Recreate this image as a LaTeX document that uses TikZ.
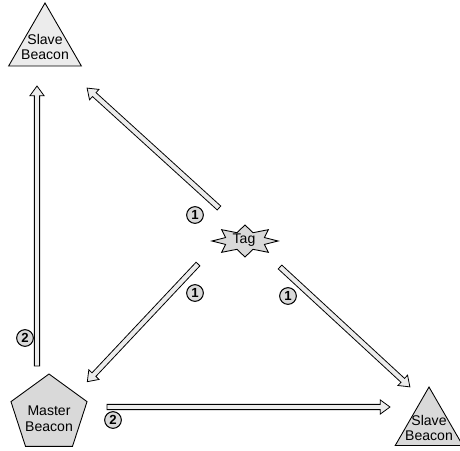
\documentclass[tikz,border=0pt]{standalone}
\usepackage{fontspec}
\setmainfont{Liberation Sans}
\usetikzlibrary{shapes.geometric,calc}
\tikzset{
  lbl/.style={font=\fontsize{8}{9}\selectfont, align=center, inner sep=0pt},
  shapefill/.style={draw=black, line width=0.5pt, fill=gray!30},
  arrowbody/.style={draw=black, line width=0.45pt, fill=gray!15, line join=miter},
  num/.style={circle, draw=black, line width=0.6pt, fill=gray!30, inner sep=0pt, minimum size=9.5pt, font=\fontsize{7.5}{7.5}\selectfont\bfseries}
}
\newcommand\hollowarrow[2]{%
  \draw[arrowbody] let \p1=(#1), \p2=(#2), \n1={atan2(\y2-\y1,\x2-\x1)}, \n2={veclen(\x2-\x1,\y2-\y1)} in
    [shift={(\p1)}, rotate=\n1]
    (0pt,-1.5pt) -- ({(\n2-5.5)*1pt},-1.5pt) -- ({(\n2-5.5)*1pt},-4pt) -- ({\n2*1pt},0pt)
    -- ({(\n2-5.5)*1pt},4pt) -- ({(\n2-5.5)*1pt},1.5pt) -- (0pt,1.5pt) -- cycle;}
\begin{document}
\begin{tikzpicture}[x=0.02cm,y=-0.02cm]
\useasboundingbox (0,0) rectangle (460,450);
% top-left slave beacon
\node[regular polygon, regular polygon sides=3, minimum size=1.68cm, inner sep=0pt, draw=black, line width=0.5pt, fill=gray!15] (sb1) at (45,45) {};
\node[lbl] (sb1t) at (45,47) {Slave\\Beacon};
% master beacon
\node[regular polygon, regular polygon sides=5, minimum size=1.6cm, inner sep=0pt, shapefill] (mb) at (49,414) {};
\node[lbl] (mbt) at (49,419) {Master\\Beacon};
% bottom-right slave beacon
\node[regular polygon, regular polygon sides=3, minimum size=1.56cm, inner sep=0pt, shapefill] (sb2) at (429,426) {};
\node[lbl] (sb2t) at (429,428) {Slave\\Beacon};
% tag star
\coordinate (tag) at (245,241);
\draw[shapefill, shift={(tag)}] (0:33 and 16) \foreach \a in {0,45,...,315} { -- (\a+22.5:21 and 9) -- (\a+45:33 and 16) } -- cycle;
\node[lbl] (tagt) at (244,240) {Tag};
% arrow end points
\coordinate (vS) at (37,366);
\coordinate (vE) at (37,86);
\coordinate (bS) at (219,208);
\coordinate (bE) at (87,88);
\coordinate (cS) at (198,264);
\coordinate (cE) at (87,382);
\coordinate (dS) at (280,267);
\coordinate (dE) at (410,387);
\coordinate (eS) at (107,407);
\coordinate (eE) at (390,407);
\hollowarrow{vS}{vE}
\hollowarrow{bS}{bE}
\hollowarrow{cS}{cE}
\hollowarrow{dS}{dE}
\hollowarrow{eS}{eE}
% step numbers
\node[num] (n2v) at (25,338) {2};
\node[num] (n1b) at (195,215) {1};
\node[num] (n1c) at (195,293) {1};
\node[num] (n1d) at (288,296) {1};
\node[num] (n2e) at (113,420) {2};
\end{tikzpicture}
\end{document}
